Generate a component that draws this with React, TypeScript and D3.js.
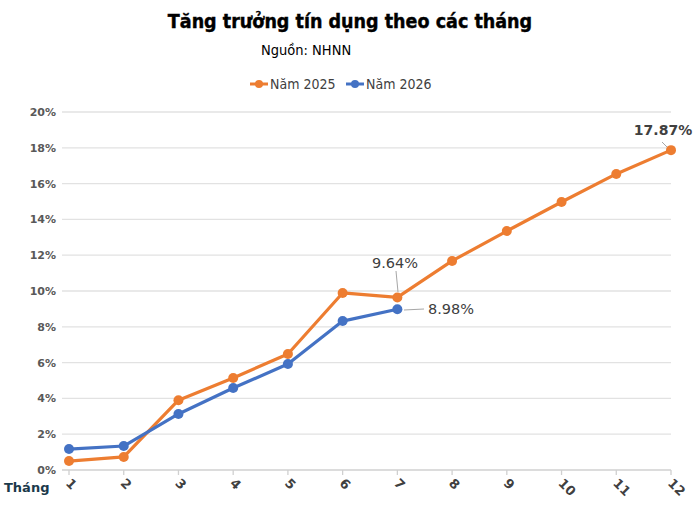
import React from "react";
import * as d3 from "d3";

const months = ["1", "2", "3", "4", "5", "6", "7", "8", "9", "10", "11", "12"];
const y2025 = [0.5, 0.73, 3.9, 5.14, 6.48, 9.89, 9.64, 11.68, 13.35, 14.97, 16.54, 17.87];
const y2026 = [1.17, 1.34, 3.13, 4.58, 5.92, 8.32, 8.98];
const yTicks = [0, 2, 4, 6, 8, 10, 12, 14, 16, 18, 20];
const seriesNames = ["Năm 2025", "Năm 2026"];
const colors = ["#ED7D31", "#4472C4"];

export default function App() {
  const W = 699, H = 525;
  const x = d3.scalePoint<string>().domain(months).range([69, 671]);
  const y = d3.scaleLinear().domain([0, 20]).range([470, 112]);
  const line = d3
    .line<number>()
    .x((_, i) => x(months[i])!)
    .y((d) => y(d));
  const font = "Tahoma, 'DejaVu Sans', sans-serif";
  const series = [y2025, y2026];
  return (
    <svg width={W} height={H} style={{ position: "absolute", left: 0, top: 0, background: "#fff" }}>
      <rect width={W} height={H} fill="#fff" />
      <text x={350} y={28} textAnchor="middle" fontFamily="'DejaVu Sans Condensed', 'DejaVu Sans', sans-serif" fontWeight="bold" fontSize={19.5} fill="#000" stroke="#000" strokeWidth={0.4}>
        Tăng trưởng tín dụng theo các tháng
      </text>
      <text x={261} y={55} fontFamily="'DejaVu Sans Condensed', sans-serif" fontSize={14.5} fill="#000">
        Nguồn: NHNN
      </text>
      {/* legend */}
      {seriesNames.map((n, i) => {
        const lx = i === 0 ? 250 : 346;
        return (
          <g key={n}>
            <line x1={lx} x2={lx + 18} y1={84} y2={84} stroke={colors[i]} strokeWidth={3} />
            <circle cx={lx + 9} cy={84} r={4} fill={colors[i]} />
            <text x={lx + 20} y={89} fontFamily="'DejaVu Sans Condensed', sans-serif" fontSize={14} fill="#404040">
              {n}
            </text>
          </g>
        );
      })}
      {/* gridlines */}
      {yTicks.map((t) => (
        <g key={t}>
          <line x1={62} x2={671} y1={y(t)} y2={y(t)} stroke={t === 0 ? "#d0d0d0" : "#e2e2e2"} strokeWidth={1.3} />
          <text x={56} y={y(t) + 4} textAnchor="end" fontFamily={font} fontWeight="bold" fontSize={11} fill="#595959">
            {t}%
          </text>
        </g>
      ))}
      {months.map((m) => (
        <g key={m}>
          <line x1={x(m)!} x2={x(m)!} y1={470} y2={475} stroke="#d0d0d0" strokeWidth={1.3} />
          <text
            transform={`translate(${x(m)! - 4},${484}) rotate(45)`}
            fontFamily={font}
            fontWeight="bold"
            fontSize={13}
            fill="#404040"
          >
            {m}
          </text>
        </g>
      ))}
      <text x={4} y={492} fontFamily={font} fontWeight="bold" fontSize={13} fill="#1B3A4B">
        Tháng
      </text>
      {/* series */}
      {series.map((s, si) => (
        <g key={si}>
          <path d={line(s)!} fill="none" stroke={colors[si]} strokeWidth={3.2} strokeLinejoin="round" />
          {s.map((v, i) => (
            <circle key={i} cx={x(months[i])!} cy={y(v)} r={5} fill={colors[si]} />
          ))}
        </g>
      ))}
      {/* data labels */}
      <line x1={398} x2={396} y1={292} y2={271} stroke="#a6a6a6" strokeWidth={1} />
      <text x={395} y={268} textAnchor="middle" fontFamily="'DejaVu Sans', sans-serif" fontSize={14.5} fill="#404040">
        9.64%
      </text>
      <line x1={404} x2={424} y1={310} y2={309} stroke="#a6a6a6" strokeWidth={1} />
      <text x={428} y={314} fontFamily="'DejaVu Sans', sans-serif" fontSize={14.5} fill="#404040">
        8.98%
      </text>
      <line x1={667} x2={662} y1={147} y2={142} stroke="#a6a6a6" strokeWidth={1} />
      <text x={663} y={135} textAnchor="middle" fontFamily="'DejaVu Sans', sans-serif" fontWeight="bold" fontSize={14} fill="#404040">
        17.87%
      </text>
    </svg>
  );
}
